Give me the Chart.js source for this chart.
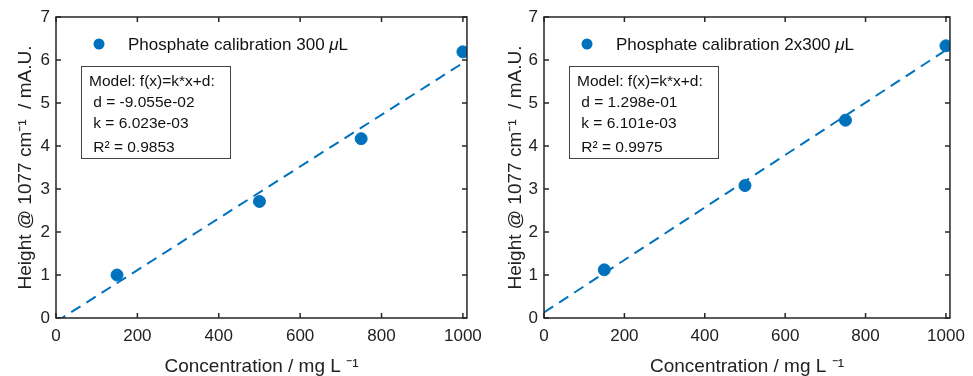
<!DOCTYPE html>
<html>
<head>
<meta charset="utf-8">
<script src="https://cdn.jsdelivr.net/npm/chart.js"></script>
<style>
    body { margin: 0; background: #fff; }
    .panel { position: absolute; top: 0; height: 376px; }
</style>
</head>
<body>
<div class="panel" style="left:0;width:490px"><canvas id="leftChart" width="490" height="376"></canvas></div>
<div class="panel" style="left:490px;width:483px"><canvas id="rightChart" width="483" height="376"></canvas></div>

<script>
    // measured concentrations (mg/L) and peak heights
    var concentrations = [150, 500, 750, 1000];
    var heights300 = [1.0, 2.71, 4.17, 6.19];
    var heights2x300 = [1.12, 3.08, 4.6, 6.33];

    // fitted lines, end points
    var fitX = [0, 1000];
    var fit300 = [-0.09, 5.93];
    var fit2x300 = [0.13, 6.23];

    var xTicks = [0, 200, 400, 600, 800, 1000];
    var yTicks = [0, 1, 2, 3, 4, 5, 6, 7];

    var legend300 = 'Phosphate calibration 300 ';
    var legend2x300 = 'Phosphate calibration 2x300 ';
    var model300 = ['Model: f(x)=k*x+d:', ' d = -9.055e-02', ' k = 6.023e-03', ' R\u00b2 = 0.9853'];
    var model2x300 = ['Model: f(x)=k*x+d:', ' d = 1.298e-01', ' k = 6.101e-03', ' R\u00b2 = 0.9975'];

    var blue = '#0072BD';
    var axisColor = '#262626';
    var fontFamily = '"Liberation Sans", Arial, Helvetica, sans-serif';

    function toPoints(xs, ys) {
        return xs.map(function (x, i) { return { x: x, y: ys[i] }; });
    }

    // box around the axes, inward ticks, legend and fit text
    var matlabBox = {
        id: 'matlabBox',
        afterDraw: function (chart, args, opts) {
            var ctx = chart.ctx;
            var a = chart.chartArea;
            var xs = chart.scales.x, ys = chart.scales.y;
            ctx.save();
            ctx.strokeStyle = axisColor;
            ctx.lineWidth = 1.5;
            ctx.strokeRect(a.left, a.top, a.right - a.left, a.bottom - a.top);
            ctx.beginPath();
            xTicks.forEach(function (v) {
                var px = xs.getPixelForValue(v);
                ctx.moveTo(px, a.bottom); ctx.lineTo(px, a.bottom - 5);
                ctx.moveTo(px, a.top); ctx.lineTo(px, a.top + 5);
            });
            yTicks.forEach(function (v) {
                var py = ys.getPixelForValue(v);
                ctx.moveTo(a.left, py); ctx.lineTo(a.left + 5, py);
                ctx.moveTo(a.right, py); ctx.lineTo(a.right - 5, py);
            });
            ctx.stroke();

            // legend
            ctx.fillStyle = blue;
            ctx.beginPath();
            ctx.arc(a.left + 43, a.top + 27, 5.5, 0, Math.PI * 2);
            ctx.fill();
            ctx.fillStyle = '#111';
            ctx.font = '17px ' + fontFamily;
            ctx.textBaseline = 'middle';
            ctx.fillText(opts.legend, a.left + 72, a.top + 28);
            var w = ctx.measureText(opts.legend).width;
            ctx.font = 'italic 17px ' + fontFamily;
            ctx.fillText('\u03bc', a.left + 72 + w, a.top + 28);
            var w2 = ctx.measureText('\u03bc').width;
            ctx.font = '17px ' + fontFamily;
            ctx.fillText('L', a.left + 72 + w + w2, a.top + 28);

            // fit result box
            var bx = a.left + 25, by = a.top + 49;
            ctx.fillStyle = '#fff';
            ctx.fillRect(bx, by, 149, 92);
            ctx.strokeStyle = '#444';
            ctx.lineWidth = 1;
            ctx.strokeRect(bx + 0.5, by + 0.5, 149, 92);
            ctx.fillStyle = '#111';
            ctx.font = '15.5px ' + fontFamily;
            opts.lines.forEach(function (t, i) {
                ctx.fillText(t, bx + 8, by + 16 + i * 21 + (i === 3 ? 3 : 0));
            });
            ctx.restore();
        }
    };

    function makeChart(id, ys, fitY, legendText, lines, rightPad, leftWidth) {
        var ctx = document.getElementById(id).getContext('2d');
        return new Chart(ctx, {
            type: 'scatter',
            data: {
                datasets: [{
                    label: 'fit',
                    data: toPoints(fitX, fitY),
                    showLine: true,
                    borderColor: blue,
                    borderWidth: 2,
                    borderDash: [11, 7],
                    pointRadius: 0,
                    fill: false
                }, {
                    label: 'data',
                    data: toPoints(concentrations, ys),
                    backgroundColor: blue,
                    borderColor: blue,
                    pointRadius: 6,
                    pointHoverRadius: 6
                }]
            },
            options: {
                responsive: false,
                animation: false,
                devicePixelRatio: 1,
                layout: { padding: { left: 0, right: rightPad, top: 17, bottom: 0 } },
                plugins: {
                    legend: { display: false },
                    tooltip: { enabled: false },
                    matlabBox: { legend: legendText, lines: lines }
                },
                scales: {
                    x: {
                        type: 'linear',
                        min: 0,
                        max: 1010,
                        grid: { display: false, drawTicks: false },
                        border: { display: false },
                        afterFit: function (s) { s.height = 58; },
                        afterBuildTicks: function (s) { s.ticks = xTicks.map(function (v) { return { value: v }; }); },
                        ticks: {
                            padding: 8,
                            color: '#222',
                            font: { family: fontFamily, size: 17 },
                            callback: function (v) { return String(v); }
                        },
                        title: {
                            display: true,
                            text: 'Concentration / mg L \u207b\u00b9',
                            color: '#222',
                            font: { family: fontFamily, size: 19, lineHeight: 1 },
                            padding: { top: 0, bottom: 0 }
                        }
                    },
                    y: {
                        min: 0,
                        max: 7,
                        grid: { display: false, drawTicks: false },
                        border: { display: false },
                        afterFit: function (s) { s.width = leftWidth; },
                        afterBuildTicks: function (s) { s.ticks = yTicks.map(function (v) { return { value: v }; }); },
                        ticks: {
                            padding: 6,
                            color: '#222',
                            font: { family: fontFamily, size: 17 }
                        },
                        title: {
                            display: true,
                            text: 'Height @ 1077 cm\u207b\u00b9  / mA.U.',
                            color: '#222',
                            font: { family: fontFamily, size: 19, lineHeight: 1 },
                            padding: { top: 16, bottom: 0 }
                        }
                    }
                }
            },
            plugins: [matlabBox]
        });
    }

    makeChart('leftChart', heights300, fit300, legend300, model300, 20, 56);
    makeChart('rightChart', heights2x300, fit2x300, legend2x300, model2x300, 15, 54);
</script>
</body>
</html>
